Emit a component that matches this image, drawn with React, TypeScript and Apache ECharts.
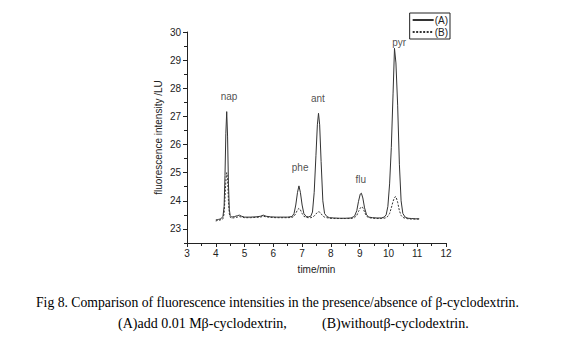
import React, { useEffect, useRef } from "react";
import * as echarts from "echarts";

const times = [4.0, 4.05, 4.1, 4.15, 4.2, 4.25, 4.29, 4.32, 4.35, 4.38, 4.41, 4.44, 4.47, 4.5, 4.55, 4.65, 4.75, 4.82, 4.9, 5.0, 5.2, 5.4, 5.55, 5.65, 5.75, 5.9, 6.1, 6.3, 6.5, 6.65, 6.72, 6.78, 6.84, 6.89, 6.94, 7.0, 7.06, 7.14, 7.22, 7.3, 7.36, 7.42, 7.48, 7.53, 7.57, 7.61, 7.66, 7.72, 7.78, 7.86, 7.95, 8.1, 8.3, 8.5, 8.7, 8.82, 8.9, 8.96, 9.02, 9.06, 9.11, 9.17, 9.24, 9.32, 9.45, 9.6, 9.75, 9.85, 9.92, 9.98, 10.04, 10.1, 10.16, 10.21, 10.26, 10.32, 10.38, 10.44, 10.5, 10.58, 10.68, 10.8, 10.95, 11.07];

const seriesA = [23.32, 23.33, 23.34, 23.35, 23.38, 23.45, 23.8, 24.9, 26.4, 27.17, 26.3, 24.6, 23.7, 23.48, 23.42, 23.44, 23.47, 23.49, 23.45, 23.42, 23.42, 23.43, 23.45, 23.49, 23.45, 23.43, 23.42, 23.42, 23.42, 23.44, 23.55, 23.85, 24.3, 24.53, 24.3, 23.85, 23.55, 23.44, 23.43, 23.45, 23.6, 24.3, 25.6, 26.7, 27.11, 26.7, 25.4, 24.0, 23.55, 23.44, 23.4, 23.39, 23.38, 23.38, 23.39, 23.45, 23.65, 23.98, 24.24, 24.27, 24.1, 23.75, 23.5, 23.42, 23.4, 23.39, 23.39, 23.42, 23.5, 23.8, 24.6, 25.9, 27.8, 29.42, 28.9, 27.4, 25.3, 24.0, 23.55, 23.42, 23.38, 23.37, 23.36, 23.36];

const seriesB = [23.28, 23.3, 23.3, 23.32, 23.33, 23.36, 23.55, 24.1, 24.7, 25.0, 24.8, 24.0, 23.55, 23.42, 23.38, 23.4, 23.42, 23.44, 23.42, 23.4, 23.4, 23.41, 23.42, 23.45, 23.43, 23.41, 23.4, 23.4, 23.4, 23.41, 23.45, 23.55, 23.68, 23.73, 23.68, 23.55, 23.45, 23.41, 23.4, 23.4, 23.42, 23.46, 23.53, 23.59, 23.61, 23.6, 23.54, 23.46, 23.42, 23.4, 23.38, 23.37, 23.37, 23.37, 23.37, 23.4, 23.48, 23.62, 23.74, 23.79, 23.76, 23.6, 23.45, 23.4, 23.38, 23.37, 23.37, 23.38, 23.4, 23.45, 23.55, 23.75, 23.98, 24.12, 24.15, 23.95, 23.65, 23.48, 23.41, 23.38, 23.36, 23.35, 23.35, 23.35];

const peakNames = ["nap", "phe", "ant", "flu", "pyr"];
const peakLabelX = [4.46, 6.93, 7.55, 9.04, 10.37];
const peakLabelY = [27.69, 25.2, 27.62, 24.74, 29.64];

const yLabels = [23, 24, 25, 26, 27, 28, 29, 30];
const yMinorTicks = [22.5, 23.5, 24.5, 25.5, 26.5, 27.5, 28.5, 29.5];

const captionLine1 = "Fig 8. Comparison of fluorescence intensities in the presence/absence of β-cyclodextrin.";
const captionA = "(A)add 0.01 Mβ-cyclodextrin,";
const captionB = "(B)withoutβ-cyclodextrin.";

const INK = "#222";
const SANS = "Liberation Sans, Arial, sans-serif";
const SERIF = "Liberation Serif, Times New Roman, serif";

export default function App() {
  const ref = useRef<HTMLDivElement>(null);
  useEffect(() => {
    if (!ref.current) return;
    const chart = echarts.init(ref.current, null, { renderer: "svg" });
    const dataA = times.map((t, i) => [t, seriesA[i]]);
    const dataB = times.map((t, i) => [t, seriesB[i]]);
    const labelData = peakNames.map((n, i) => ({ name: n, value: [peakLabelX[i], peakLabelY[i]] }));
    chart.setOption({
      animation: false,
      backgroundColor: "#fff",
      grid: { left: 187, right: 118, top: 32, bottom: 105, containLabel: false },
      legend: {
        orient: "vertical",
        right: 114,
        top: 13,
        padding: [2, 2, 2, 2],
        itemGap: 2,
        itemWidth: 21,
        itemHeight: 10,
        borderColor: INK,
        borderWidth: 1,
        borderRadius: 0,
        itemStyle: { opacity: 0 },
        textStyle: { fontSize: 10, color: INK, fontFamily: SANS, padding: [0, 0, 0, -4] },
        data: ["(A)", "(B)"],
      },
      xAxis: {
        type: "value",
        min: 3,
        max: 12,
        interval: 1,
        name: "time/min",
        nameLocation: "middle",
        nameGap: 21,
        nameTextStyle: { fontSize: 10, color: INK, fontFamily: SANS },
        axisLine: { lineStyle: { color: INK, width: 1 } },
        axisTick: { length: 4, lineStyle: { color: INK } },
        minorTick: { show: true, splitNumber: 2, length: 3, lineStyle: { color: INK } },
        axisLabel: { fontSize: 10, color: INK, fontFamily: SANS, margin: 5 },
        splitLine: { show: false },
        minorSplitLine: { show: false },
      },
      yAxis: [
        {
          type: "value",
          min: 22.5,
          max: 30,
          name: "fluorescence intensity /LU",
          nameLocation: "middle",
          nameGap: 24,
          nameTextStyle: { fontSize: 10, color: INK, fontFamily: SANS },
          axisLine: { show: true, lineStyle: { color: INK, width: 1 } },
          axisTick: { show: true, length: 4, customValues: yLabels, lineStyle: { color: INK } },
          axisLabel: { fontSize: 10, color: INK, fontFamily: SANS, margin: 6, customValues: yLabels },
          splitLine: { show: false },
        },
        {
          type: "value",
          min: 22.5,
          max: 30,
          position: "left",
          axisLine: { show: false },
          axisTick: { show: true, length: 3, customValues: yMinorTicks, lineStyle: { color: INK } },
          axisLabel: { show: false },
          splitLine: { show: false },
        },
      ],
      series: [
        {
          name: "(A)",
          type: "line",
          data: dataA,
          showSymbol: false,
          symbol: "none",
          lineStyle: { color: "#333", width: 1 },
          itemStyle: { color: "#333" },
        },
        {
          name: "(B)",
          type: "line",
          data: dataB,
          showSymbol: false,
          symbol: "none",
          lineStyle: { color: "#333", width: 1, type: [2, 1.5] },
          itemStyle: { color: "#333" },
        },
        {
          name: "labels",
          type: "scatter",
          data: labelData,
          symbolSize: 0,
          silent: true,
          label: {
            show: true,
            position: "inside",
            formatter: "{b}",
            fontSize: 10,
            color: INK,
            fontFamily: SANS,
          },
        },
      ],
      graphic: [
        {
          type: "text",
          left: 36,
          top: 295,
          style: { text: captionLine1, font: `13.7px ${SERIF}`, fill: "#000" },
        },
        {
          type: "text",
          left: 118,
          top: 316,
          style: { text: captionA, font: `14px ${SERIF}`, fill: "#000" },
        },
        {
          type: "text",
          left: 322,
          top: 316,
          style: { text: captionB, font: `14px ${SERIF}`, fill: "#000" },
        },
      ],
    });
    return () => chart.dispose();
  }, []);
  return <div ref={ref} style={{ width: 564, height: 348, position: "absolute", left: 0, top: 0 }} />;
}
